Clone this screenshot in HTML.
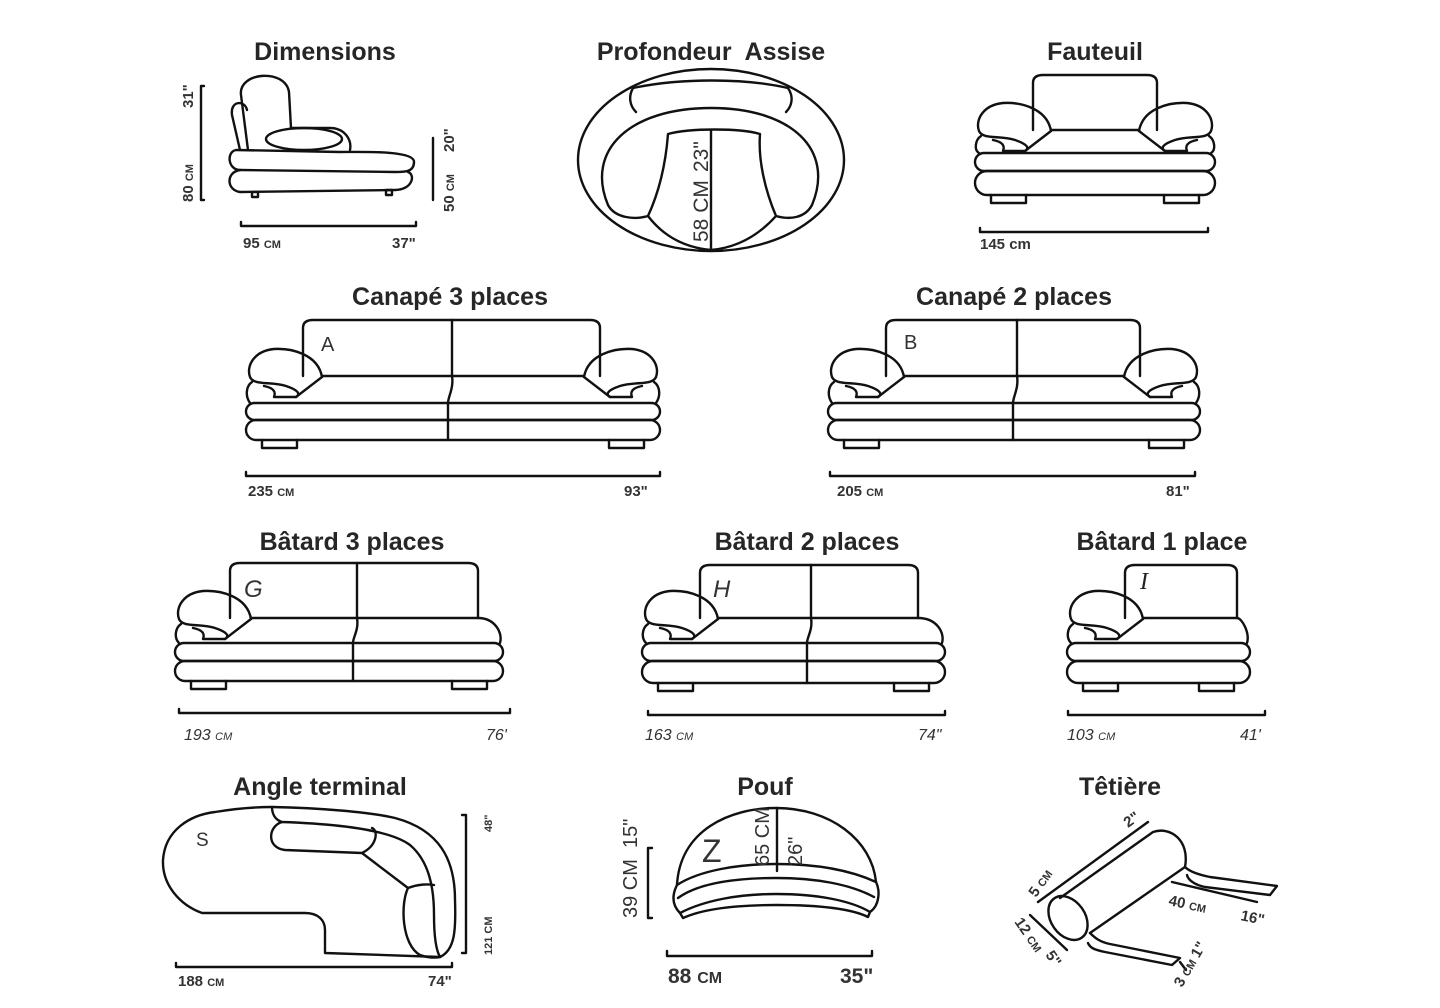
<!DOCTYPE html>
<html><head><meta charset="utf-8"><style>
html,body{margin:0;padding:0;background:#fff;width:1440px;height:1008px;overflow:hidden}
svg{position:absolute;left:0;top:0}
.t{font-family:"Liberation Sans",sans-serif;font-weight:bold;font-size:25px;fill:#262626;text-anchor:middle}
.d{font-family:"Liberation Sans",sans-serif;font-size:15px;fill:#333;font-weight:bold}
.di{font-family:"Liberation Sans",sans-serif;font-size:16px;fill:#333;font-style:italic}
.s{font-size:11px}
path,ellipse,rect,line{fill:none;stroke:#111;stroke-width:2.4;stroke-linejoin:round;stroke-linecap:round}
</style></head><body>
<svg id="sv" width="1440" height="1008" viewBox="0 0 1440 1008" xmlns="http://www.w3.org/2000/svg">
<text class="t" x="325" y="60">Dimensions</text>
<text class="t" x="711" y="60">Profondeur&#160; Assise</text>
<text class="t" x="1095" y="60">Fauteuil</text>
<text class="t" x="450" y="305">Canapé 3 places</text>
<text class="t" x="1014" y="305">Canapé 2 places</text>
<text class="t" x="352" y="550">Bâtard 3 places</text>
<text class="t" x="807" y="550">Bâtard 2 places</text>
<text class="t" x="1162" y="550">Bâtard 1 place</text>
<text class="t" x="320" y="795">Angle terminal</text>
<text class="t" x="765" y="795">Pouf</text>
<text class="t" x="1120" y="795">Têtière</text>

<!-- Dimensions side view -->
<path d="M248,150 L241,95 C238,72 285,68 289,92 L291,128"/>
<path d="M240,150 L232,115 C230,100 245,100 247,110"/>
<ellipse cx="304" cy="139" rx="38" ry="11"/>
<path d="M291,128 L330,128 C345,128 352,140 350,150"/>
<path d="M236,150 L340,152 C360,152 415,150 414,162 C414,172 405,172 395,172 L240,170 C228,170 226,152 236,150 Z"/>
<path d="M240,170 C226,172 226,190 240,192 L395,190 C412,190 416,175 408,172"/>
<rect x="252" y="192" width="6" height="5"/><rect x="386" y="190" width="6" height="5"/>
<path d="M204,86 H201 V200 H204"/>
<path d="M433,138 V200"/>
<path d="M241,222 V226 H416 V222"/>
<text class="d" transform="translate(193,108) rotate(-90)">31"</text>
<text class="d" transform="translate(193,202) rotate(-90)">80 <tspan class="s">CM</tspan></text>
<text class="d" transform="translate(454,152) rotate(-90)">20"</text>
<text class="d" transform="translate(454,212) rotate(-90)">50 <tspan class="s">CM</tspan></text>
<text class="d" x="243" y="248">95 <tspan class="s">CM</tspan></text>
<text class="d" x="392" y="248">37"</text>

<!-- Round chair -->
<ellipse cx="711" cy="160" rx="133" ry="91"/>
<path d="M608,205 C585,150 630,108 711,108 C792,108 835,150 812,205 C805,218 790,220 776,216 C765,190 758,160 760,134 C740,128 690,128 668,134 C666,160 660,190 648,216 C634,220 615,218 608,205"/>
<path d="M633,88 C628,97 630,106 636,112"/><path d="M788,88 C794,97 792,106 786,112"/>
<path d="M633,88 C680,78 745,78 788,88"/>
<path d="M711,131 V250"/>
<path d="M648,216 C670,245 700,249 711,250"/>
<path d="M776,216 C750,245 722,249 711,250"/>
<text class="d" style="font-size:21px;font-weight:normal" transform="translate(708,172) rotate(-90)">23"</text>
<text class="d" style="font-size:21px;font-weight:normal" transform="translate(708,242) rotate(-90)">58 CM</text>

<g id="sofas"></g>

<text class="d" style="font-size:20px;font-weight:normal" x="321" y="351">A</text>
<text class="d" style="font-size:20px;font-weight:normal" x="904" y="349">B</text>
<text class="di" style="font-size:24px" x="244" y="597">G</text>
<text class="di" style="font-size:24px" x="713" y="597">H</text>
<text style="font-family:'Liberation Serif',serif;font-style:italic;font-size:24px;fill:#222" x="1140" y="589">I</text>

<text class="d" x="980" y="249">145 cm</text>
<text class="d" x="248" y="496">235 <tspan class="s">CM</tspan></text>
<text class="d" x="624" y="496">93"</text>
<text class="d" x="837" y="496">205 <tspan class="s">CM</tspan></text>
<text class="d" x="1166" y="496">81"</text>
<text class="di" x="184" y="740">193 <tspan class="s">CM</tspan></text>
<text class="di" x="486" y="740">76'</text>
<text class="di" x="645" y="740">163 <tspan class="s">CM</tspan></text>
<text class="di" x="918" y="740">74"</text>
<text class="di" x="1067" y="740">103 <tspan class="s">CM</tspan></text>
<text class="di" x="1240" y="740">41'</text>

<!-- Angle terminal -->
<path d="M202,913 C180,905 162,885 163,860 C165,830 190,815 215,812 C240,808 260,807 272,807 C320,808 370,812 395,818 C440,830 455,860 455,900 C456,930 455,950 440,957 L325,953 L325,930 C325,920 318,913 305,913 Z"/>
<path d="M272,807 C272,815 276,820 282,822 C340,824 390,830 410,845 C430,862 434,890 434,915 C434,935 436,950 440,957"/>
<path d="M282,822 C268,826 266,848 285,850 L362,853 C378,845 378,830 372,828"/>
<path d="M362,853 L408,888 C418,884 428,884 434,885"/>
<path d="M408,888 C400,905 402,945 420,955 C428,958 436,958 440,957"/>
<text class="d" style="font-size:19px;font-weight:normal" x="196" y="846">S</text>
<path d="M462,815 H466 V953 H462"/>
<path d="M176,963 V967 H452 V963"/>
<text class="d s" transform="translate(492,832) rotate(-90)">48"</text>
<text class="d s" transform="translate(492,955) rotate(-90)">121 CM</text>
<text class="d" x="178" y="986">188 <tspan class="s">CM</tspan></text>
<text class="d" x="428" y="986">74"</text>

<!-- Pouf -->
<path d="M677,885 C680,830 730,808 776,808 C830,808 872,840 876,882"/>
<path d="M677,885 C700,870 740,864 776,864 C815,864 850,870 876,882"/>
<path d="M678,898 C700,882 740,878 776,878 C815,878 850,884 874,897"/>
<path d="M680,913 C705,900 740,894 776,894 C815,894 850,900 870,912"/>
<path d="M677,885 C672,895 672,905 680,913 L683,918 C705,908 740,905 776,905 C815,905 850,908 868,917 L870,912 C880,905 880,890 876,882"/>
<path d="M777,808 V871"/>
<path d="M652,848 H648 V918 H652"/>
<path d="M667,951 V956 H872 V951"/>
<text class="d" style="font-size:32px;font-weight:normal" x="702" y="862">Z</text>
<text class="d" style="font-size:20px;font-weight:normal" transform="translate(769,866) rotate(-90)">65 CM</text>
<text class="d" style="font-size:20px;font-weight:normal" transform="translate(802,866) rotate(-90)">26"</text>
<text class="d" style="font-size:20px;font-weight:normal" transform="translate(637,848) rotate(-90)">15"</text>
<text class="d" style="font-size:20px;font-weight:normal" transform="translate(637,918) rotate(-90)">39 CM</text>
<text class="d" style="font-size:21px" x="668" y="983">88 <tspan style="font-size:16px">CM</tspan></text>
<text class="d" style="font-size:21px" x="840" y="983">35"</text>

<!-- Têtière -->
<ellipse cx="1068" cy="918" rx="17" ry="24" transform="rotate(-35 1068 918)"/>
<path d="M1060,898 L1153,832 C1170,826 1190,840 1185,867 L1090,933"/>
<path d="M1185,867 C1190,872 1200,875 1210,877 L1277,886 L1270,895 L1205,887 C1195,885 1188,880 1187,875"/>
<path d="M1090,933 C1095,938 1100,942 1110,944 L1180,958 L1172,965 L1105,952 C1095,950 1090,948 1088,943"/>
<path d="M1038,902 L1148,822"/>
<path d="M1030,915 L1067,950"/>
<path d="M1172,882 L1257,902"/>
<path d="M1180,962 L1186,970"/>
<text class="d" transform="translate(1128,828) rotate(-35)">2"</text>
<text class="d" transform="translate(1036,898) rotate(-55)">5 <tspan class="s">CM</tspan></text>
<text class="d" transform="translate(1014,922) rotate(55)">12 <tspan class="s">CM</tspan></text>
<text class="d" transform="translate(1045,955) rotate(55)">5"</text>
<text class="d" transform="translate(1168,905) rotate(12)">40 <tspan class="s">CM</tspan></text>
<text class="d" transform="translate(1240,920) rotate(12)">16"</text>
<text class="d" transform="translate(1182,988) rotate(-60)">3 <tspan class="s">CM</tspan> 1"</text>
</svg>
<script>
(function(){
var g=document.getElementById('sofas'),NS='http://www.w3.org/2000/svg';
function P(d,tr){var p=document.createElementNS(NS,'path');p.setAttribute('d',d);if(tr)p.setAttribute('transform',tr);g.appendChild(p);}
function arm(L,s,b1,tr){
 P('M'+(L+76)+','+(s+1)+' C'+(L+72)+','+(s-22)+' '+(L+45)+','+(s-28)+' '+(L+28)+','+(s-27)+' C'+(L+8)+','+(s-25)+' '+L+','+(s-10)+' '+(L+4)+','+(s+1)+
 ' C'+(L+8)+','+(s+10)+' '+(L+25)+','+(s+5)+' '+(L+40)+','+(s+10)+' C'+(L+52)+','+(s+14)+' '+(L+55)+','+(s+18)+' '+(L+50)+','+(s+21)+' L'+(L+28)+','+(s+21)+' C'+(L+30)+','+(s+16)+' '+(L+28)+','+(s+12)+' '+(L+18)+','+(s+10),tr);
 P('M'+(L+50)+','+(s+21)+' L'+(L+76)+','+(s+1),tr);
 P('M'+(L+6)+','+(s+6)+' C'+L+','+(s+10)+' '+(L-1)+','+(s+20)+' '+(L+4)+','+b1,tr);
}
function sofa(o){
 var L=o.L,R=o.R,t=o.top,s=o.seat,b1=o.b1,b2=o.b2,bt=o.bot;
 P('M'+o.bl+','+s+' V'+(t+8)+' Q'+o.bl+','+t+' '+(o.bl+10)+','+t+' L'+(o.br-10)+','+t+' Q'+o.br+','+t+' '+o.br+','+(t+8)+' V'+s);
 var sl=L+76, sr=o.ra?R-76:o.br;
 P('M'+sl+','+s+' H'+sr);
 if(!o.ra) P('M'+o.br+','+s+' C'+(R-8)+','+s+' '+R+','+(s+15)+' '+(R-3)+','+b1);
 var h=(b2-b1)/2;
 P('M'+(L+h)+','+b1+' H'+(R-h)+' A'+h+','+h+' 0 0 1 '+(R-h)+','+b2+' H'+(L+h)+' A'+h+','+h+' 0 0 1 '+(L+h)+','+b1);
 var h2=(bt-b2)/2;
 P('M'+(L+h2)+','+b2+' H'+(R-h2)+' A'+h2+','+h2+' 0 0 1 '+(R-h2)+','+bt+' H'+(L+h2)+' A'+h2+','+h2+' 0 0 1 '+(L+h2)+','+b2);
 P('M'+(L+16)+','+bt+' V'+(bt+8)+' H'+(L+51)+' V'+bt);
 P('M'+(R-51)+','+bt+' V'+(bt+8)+' H'+(R-16)+' V'+bt);
 arm(L,s,b1);
 if(o.ra) arm(L,s,b1,'translate('+(L+R)+',0) scale(-1,1)');
 if(o.div){var x=o.div;P('M'+x+','+t+' V'+s+' C'+(x+2)+','+(s+12)+' '+(x-4)+','+(b1-6)+' '+(x-4)+','+b1+' V'+bt);}
 if(o.dim) P('M'+o.dim[0]+','+(o.dim[2]-4)+' V'+o.dim[2]+' H'+o.dim[1]+' V'+(o.dim[2]-4));
}
sofa({L:975,R:1215,top:75,bl:1033,br:1157,seat:130,b1:153,b2:171,bot:195,ra:1,dim:[980,1208,232]});
sofa({L:246,R:660,top:320,bl:303,br:600,seat:376,b1:403,b2:420,bot:440,ra:1,div:452,dim:[246,660,476]});
sofa({L:828,R:1200,top:320,bl:886,br:1140,seat:376,b1:403,b2:420,bot:440,ra:1,div:1017,dim:[830,1195,476]});
sofa({L:175,R:503,top:563,bl:230,br:478,seat:618,b1:643,b2:661,bot:681,div:357,dim:[179,510,713]});
sofa({L:642,R:945,top:565,bl:700,br:918,seat:618,b1:643,b2:661,bot:683,div:811,dim:[648,945,715]});
sofa({L:1067,R:1250,top:565,bl:1125,br:1237,seat:618,b1:643,b2:661,bot:683,dim:[1068,1265,715]});
})();
</script>
</body></html>
